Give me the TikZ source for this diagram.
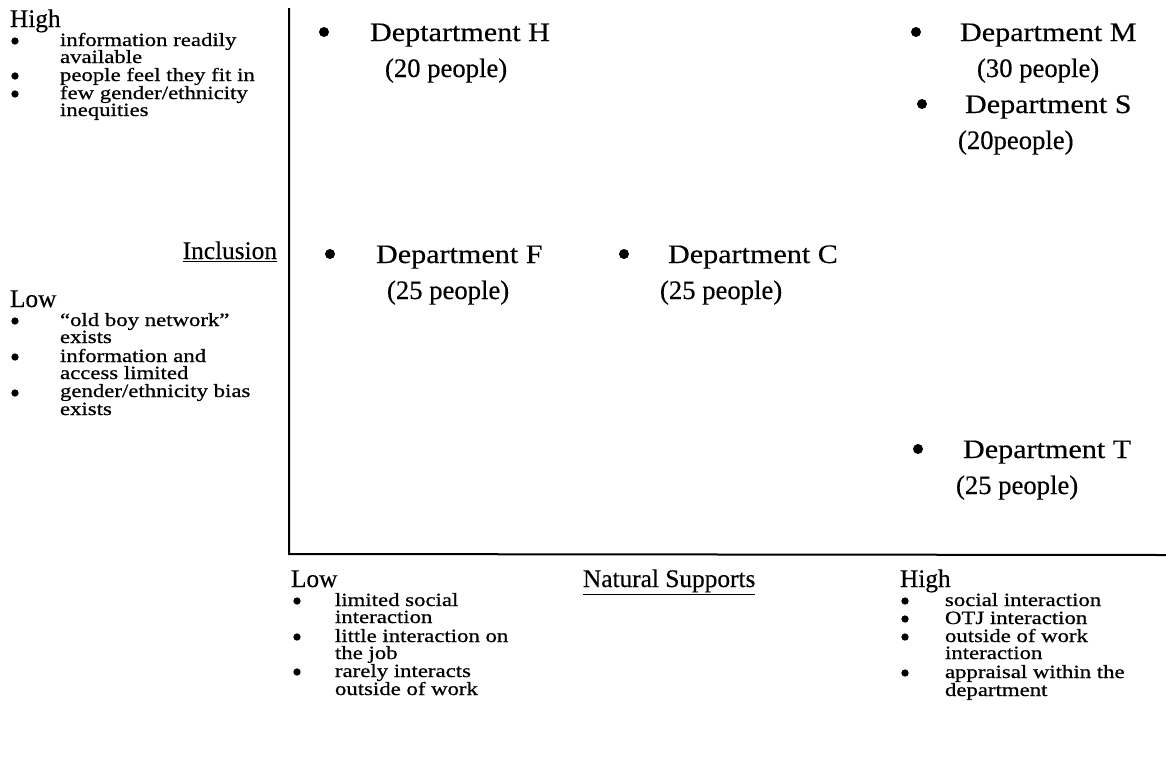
\documentclass[tikz,border=0pt]{standalone}
\usepackage{fontspec}
\setmainfont{Liberation Serif}[FakeBold=0.4]
\newfontfamily\wideserif[FakeStretch=1.22,FakeBold=0.7]{Liberation Serif}
\newfontfamily\deptserif[FakeStretch=1.13,FakeBold=0.4]{Liberation Serif}

\begin{document}
\begin{tikzpicture}[x=0.75pt,y=-0.75pt,
  every node/.style={inner sep=0pt,outer sep=0pt},
  heading/.style={anchor=base west,font=\fontsize{19}{22}\selectfont},
  dept/.style={anchor=base west,font=\fontsize{20}{24}\deptserif},
  count/.style={anchor=base west,font=\fontsize{20}{24}\selectfont},
  note/.style={anchor=base west,font=\fontsize{14}{17}\wideserif},
  bigdot/.style={circle,fill=black,minimum size=7.5pt},
  smalldot/.style={circle,fill=black,minimum size=5.5pt},
  axisline/.style={line width=1.5pt}]
\useasboundingbox (0,0) rectangle (1166,768);

% axes
\coordinate (ytop) at (289,8);
\coordinate (origin) at (289,554);
\coordinate (xend) at (1166,555);
\draw[axisline] (ytop) -- (origin) -- (xend);

% vertical axis: Inclusion
\node[heading] (incHigh) at (10,27) {High};
\node[smalldot] (incH1) at (15,41) {};
\node[note] (incH1a) at (60,46) {information readily};
\node[note] (incH1b) at (60,63) {available};
\node[smalldot] (incH2) at (15,76) {};
\node[note] (incH2a) at (60,81) {people feel they fit in};
\node[smalldot] (incH3) at (15,94) {};
\node[note] (incH3a) at (60,99) {few gender/ethnicity};
\node[note] (incH3b) at (60,116) {inequities};

\node[heading,anchor=base east] (incl) at (277,259) {\underline{Inclusion}};

\node[heading] (incLow) at (10,307) {Low};
\node[smalldot] (incL1) at (15,321) {};
\node[note] (incL1a) at (60,326) {“old boy network”};
\node[note] (incL1b) at (60,343) {exists};
\node[smalldot] (incL2) at (15,357) {};
\node[note] (incL2a) at (60,362) {information and};
\node[note] (incL2b) at (60,379) {access limited};
\node[smalldot] (incL3) at (15,393) {};
\node[note] (incL3a) at (60,397) {gender/ethnicity bias};
\node[note] (incL3b) at (60,415) {exists};

% horizontal axis: Natural Supports
\node[heading] (supLow) at (291,587) {Low};
\node[smalldot] (supL1) at (297,601) {};
\node[note] (supL1a) at (335,606) {limited social};
\node[note] (supL1b) at (335,623) {interaction};
\node[smalldot] (supL2) at (297,637) {};
\node[note] (supL2a) at (335,642) {little interaction on};
\node[note] (supL2b) at (335,659) {the job};
\node[smalldot] (supL3) at (297,672) {};
\node[note] (supL3a) at (335,677) {rarely interacts};
\node[note] (supL3b) at (335,695) {outside of work};

\node[heading] (sup) at (583,587) {\underline{Natural Supports}};

\node[heading] (supHigh) at (900,587) {High};
\node[smalldot] (supH1) at (905,601) {};
\node[note] (supH1a) at (945,606) {social interaction};
\node[smalldot] (supH2) at (905,619) {};
\node[note] (supH2a) at (945,624) {OTJ interaction};
\node[smalldot] (supH3) at (905,637) {};
\node[note] (supH3a) at (945,642) {outside of work};
\node[note] (supH3b) at (945,659) {interaction};
\node[smalldot] (supH4) at (905,673) {};
\node[note] (supH4a) at (945,678) {appraisal within the};
\node[note] (supH4b) at (945,696) {department};

% departments
\node[bigdot] (dH) at (324,32) {};
\node[dept] (dHa) at (370,41) {Deptartment H};
\node[count] (dHb) at (385,77) {(20 people)};

\node[bigdot] (dM) at (916,32) {};
\node[dept] (dMa) at (960,41) {Department M};
\node[count] (dMb) at (977,77) {(30 people)};

\node[bigdot] (dS) at (922,104) {};
\node[dept] (dSa) at (965,113) {Department S};
\node[count] (dSb) at (958,149) {(20people)};

\node[bigdot] (dF) at (330,254) {};
\node[dept] (dFa) at (376,263) {Department F};
\node[count] (dFb) at (387,299) {(25 people)};

\node[bigdot] (dC) at (624,254) {};
\node[dept] (dCa) at (668,263) {Department C};
\node[count] (dCb) at (660,299) {(25 people)};

\node[bigdot] (dT) at (918,449) {};
\node[dept] (dTa) at (963,458) {Department T};
\node[count] (dTb) at (956,494) {(25 people)};
\end{tikzpicture}
\end{document}
